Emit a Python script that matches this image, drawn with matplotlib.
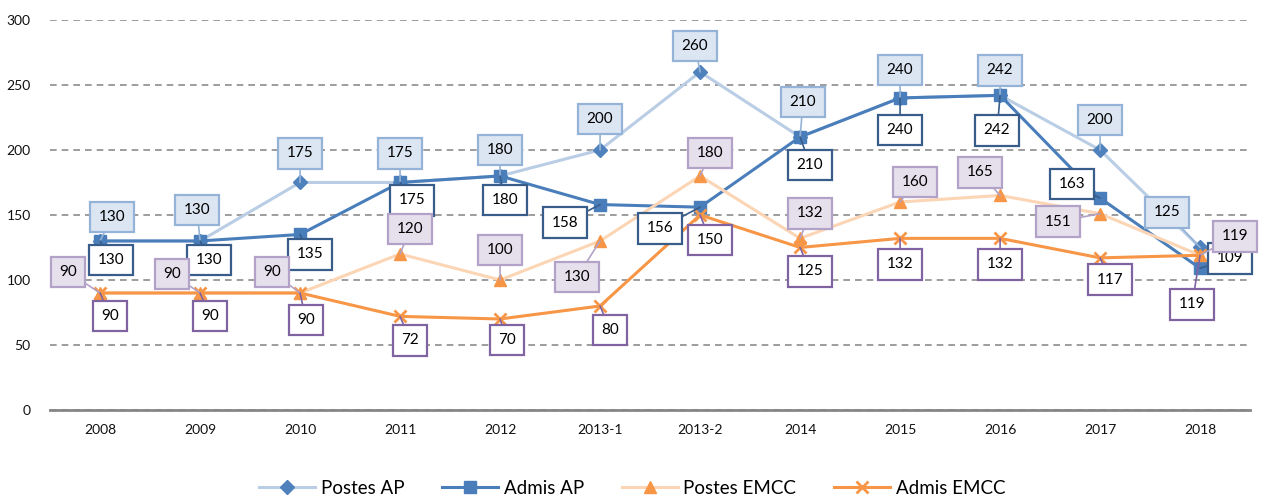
import matplotlib
matplotlib.use('Agg')
import matplotlib.pyplot as plt

plt.rcParams['font.family'] = ['Lato', 'DejaVu Sans']

# données
annees = ['2008', '2009', '2010', '2011', '2012', '2013-1', '2013-2',
          '2014', '2015', '2016', '2017', '2018']
postes_ap = [130, 130, 175, 175, 180, 200, 260, 210, 240, 242, 200, 125]
admis_ap = [130, 130, 135, 175, 180, 158, 156, 210, 240, 242, 163, 109]
postes_emcc = [90, 90, 90, 120, 100, 130, 180, 132, 160, 165, 151, 119]
admis_emcc = [90, 90, 90, 72, 70, 80, 150, 125, 132, 132, 117, 119]

# décalage des étiquettes (pixels, x vers la droite, y vers le haut)
off_postes_ap = [(12, 24), (-3, 31), (0, 29), (0, 29), (0, 26), (0, 31),
                 (-5, 26), (3, 35), (0, 28), (0, 25), (0, 30), (-33, 35)]
off_admis_ap = [(11, -19), (9, -19), (10, -20), (12, -18), (5, -24), (-35, -18),
                (-40, -21), (10, -28), (0, -32), (-3, -35), (-28, 14), (30, 10)]
off_postes_emcc = [(-32, 21), (-28, 19), (-28, 21), (10, 25), (0, 30), (-23, -36),
                   (10, 23), (10, 25), (15, 20), (-20, 23), (-42, -8), (35, 19)]
off_admis_emcc = [(10, -23), (10, -23), (6, -27), (10, -24), (7, -21), (10, -24),
                  (10, -25), (10, -24), (0, -26), (0, -26), (10, -22), (-8, -49)]

fig = plt.figure(figsize=(12.64, 4.98), dpi=100)
ax = fig.add_axes([0.0396, 0.1767, 0.9494, 0.7833])

x = list(range(len(annees)))

series = [
    ('Postes AP', postes_ap, off_postes_ap, '#B9CDE5', '#4F81BD', 'D', 7,
     '#DCE6F2', '#95B3D7'),
    ('Admis AP', admis_ap, off_admis_ap, '#4A7EBB', '#4A7EBB', 's', 9,
     'white', '#385D8A'),
    ('Postes EMCC', postes_emcc, off_postes_emcc, '#FCD5B5', '#F79646', '^', 9,
     '#E6E0EC', '#B3A2C7'),
    ('Admis EMCC', admis_emcc, off_admis_emcc, '#F79646', '#F79646', 'x', 9,
     'white', '#8064A2'),
]

for nom, vals, offs, lc, mc, mk, ms, fc, ec in series:
    ax.plot(x, vals, color=lc, lw=2.2, marker=mk, markersize=ms,
            markerfacecolor=mc, markeredgecolor=mc, markeredgewidth=2 if mk == 'x' else 1,
            label=nom, zorder=3)

for nom, vals, offs, lc, mc, mk, ms, fc, ec in series:
    for i, v in enumerate(vals):
        dx, dy = offs[i]
        ax.annotate(str(v), xy=(i, v), xytext=(dx, dy), textcoords='offset pixels',
                    ha='center', va='center', fontsize=11, color='black',
                    bbox=dict(boxstyle='square,pad=0.55', fc=fc, ec=ec, lw=1.6),
                    arrowprops=dict(arrowstyle='-', color=ec, lw=1.2,
                                    shrinkA=0, shrinkB=0),
                    zorder=5)

ax.set_xlim(-0.5, len(annees) - 0.5)
ax.set_ylim(0, 300)
ax.set_yticks(range(0, 301, 50))
ax.set_xticks(x)
ax.set_xticklabels(annees)
ax.tick_params(axis='both', length=0, labelsize=10, colors='#111111')
ax.tick_params(axis='y', pad=14)
ax.tick_params(axis='x', pad=10)

ax.yaxis.grid(True, linestyle=(0, (4, 3)), color='#8C8C8C', lw=1.2)
ax.set_axisbelow(True)
for s in ['left', 'right', 'top']:
    ax.spines[s].set_visible(False)
ax.spines['bottom'].set_color('#868686')
ax.spines['bottom'].set_linewidth(2)

fig.legend(loc='center', bbox_to_anchor=(0.5, 1 - 488 / 498), ncol=4,
           frameon=False, fontsize=13.5, handlelength=3.0, columnspacing=2.0,
           handletextpad=0.3)

fig.savefig('out.png', dpi=100)
